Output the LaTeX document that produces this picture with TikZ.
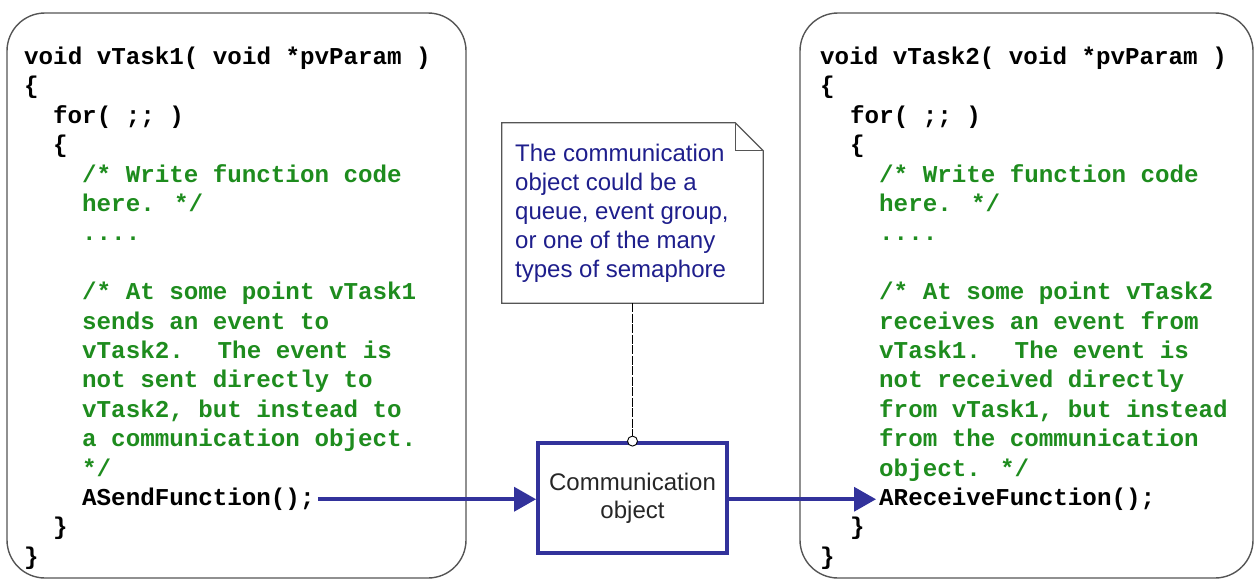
\documentclass[tikz,border=0pt]{standalone}
\usepackage{fontspec}
\usetikzlibrary{arrows.meta}
\newfontfamily\codefam{Liberation Mono}
\newfontfamily\arialfam{Liberation Sans}
\definecolor{cmtgreen}{RGB}{30,140,30}
\definecolor{arrowblue}{RGB}{50,50,155}
\definecolor{notenavy}{RGB}{30,30,140}
\definecolor{boxgray}{RGB}{85,85,85}
\tikzset{
  code/.style={anchor=base west, inner sep=0pt, text=black,
    font=\codefam\bfseries\fontsize{24.2}{29}\selectfont},
  cmt/.style={code, text=cmtgreen},
  taskbox/.style={draw=boxgray, line width=1.4pt, rounded corners=38pt,
    minimum width=#1, minimum height=565pt, inner sep=0pt},
  notetxt/.style={anchor=base west, inner sep=0pt, text=notenavy,
    font=\arialfam\fontsize{24}{29}\selectfont},
  flow/.style={draw=arrowblue, line width=3.6pt,
    -{Triangle[length=22pt,width=24pt]}},
}
\begin{document}
\begin{tikzpicture}[x=1pt,y=-1pt]
\useasboundingbox (0,0) rectangle (1255,579);
% task boxes
\node[taskbox=459pt] (taskA) at (236.5,295.5) {};
\node[taskbox=453pt] (taskB) at (1026.5,295.5) {};
% left code
\node[code] (a0) at (24,64.5) {void vTask1( void *pvParam )};
\node[code] (a1) at (24,93.9) {\{};
\node[code] (a2) at (53,123.3) {for( ;; )};
\node[code] (a3) at (53,152.7) {\{};
\node[cmt] (a4) at (82,182.1) {/* Write function code};
\node[cmt] (a5) at (82,211.5) {here. */};
\node[cmt] (a6) at (82,240.9) {....};
\node[cmt] (a8) at (82,299.7) {/* At some point vTask1};
\node[cmt] (a9) at (82,329.1) {sends an event to};
\node[cmt] (a10) at (82,358.5) {vTask2.~ The event is};
\node[cmt] (a11) at (82,387.9) {not sent directly to};
\node[cmt] (a12) at (82,417.3) {vTask2, but instead to};
\node[cmt] (a13) at (82,446.7) {a communication object.};
\node[cmt] (a14) at (82,476.1) {*/};
\node[code] (send) at (82,505.5) {ASendFunction();};
\node[code] (a16) at (53,534.9) {\}};
\node[code] (a17) at (24,564.3) {\}};
% right code
\node[code] (b0) at (820,64.5) {void vTask2( void *pvParam )};
\node[code] (b1) at (820,93.9) {\{};
\node[code] (b2) at (850,123.3) {for( ;; )};
\node[code] (b3) at (850,152.7) {\{};
\node[cmt] (b4) at (879,182.1) {/* Write function code};
\node[cmt] (b5) at (879,211.5) {here. */};
\node[cmt] (b6) at (879,240.9) {....};
\node[cmt] (b8) at (879,299.7) {/* At some point vTask2};
\node[cmt] (b9) at (879,329.1) {receives an event from};
\node[cmt] (b10) at (879,358.5) {vTask1.~ The event is};
\node[cmt] (b11) at (879,387.9) {not received directly};
\node[cmt] (b12) at (879,417.3) {from vTask1, but instead};
\node[cmt] (b13) at (879,446.7) {from the communication};
\node[cmt] (b14) at (879,476.1) {object. */};
\node[code] (recv) at (879,505.5) {AReceiveFunction();};
\node[code] (b16) at (850,534.9) {\}};
\node[code] (b17) at (820,564.3) {\}};
% note
\node[minimum width=261pt, minimum height=180pt, inner sep=0pt] (note) at (632.5,213) {};
\draw[draw=boxgray, line width=1.2pt, fill=white]
  (note.north west) -- ([xshift=-28pt]note.north east) -- ([yshift=-28pt]note.north east)
  -- (note.south east) -- (note.south west) -- cycle;
\draw[draw=boxgray, line width=1.2pt]
  ([xshift=-28pt]note.north east) -- ([xshift=-28pt,yshift=-28pt]note.north east)
  -- ([yshift=-28pt]note.north east);
\node[notetxt] (n1) at (515,161) {The communication};
\node[notetxt] (n2) at (515,190) {object could be a};
\node[notetxt] (n3) at (515,219) {queue, event group,};
\node[notetxt] (n4) at (515,248) {or one of the many};
\node[notetxt] (n5) at (515,277) {types of semaphore};
% communication object
\node[draw=arrowblue, line width=3.8pt, minimum width=189pt, minimum height=110pt,
  align=center, font=\arialfam\fontsize{24}{28}\selectfont, text=black!85]
  (comm) at (632.5,498) {Communication\\object};
% connectors
\draw[black, line width=1pt, dash pattern=on 9pt off 1.5pt] (note.south) -- (comm.north);
\draw[black, line width=0.9pt, fill=white] (comm.north) circle (5pt);
\draw[flow] ([xshift=3pt]send.east) -- (comm.west |- send.east);
\draw[flow] (comm.east |- send.east) -- ([xshift=-3pt]recv.west);
\end{tikzpicture}
\end{document}
